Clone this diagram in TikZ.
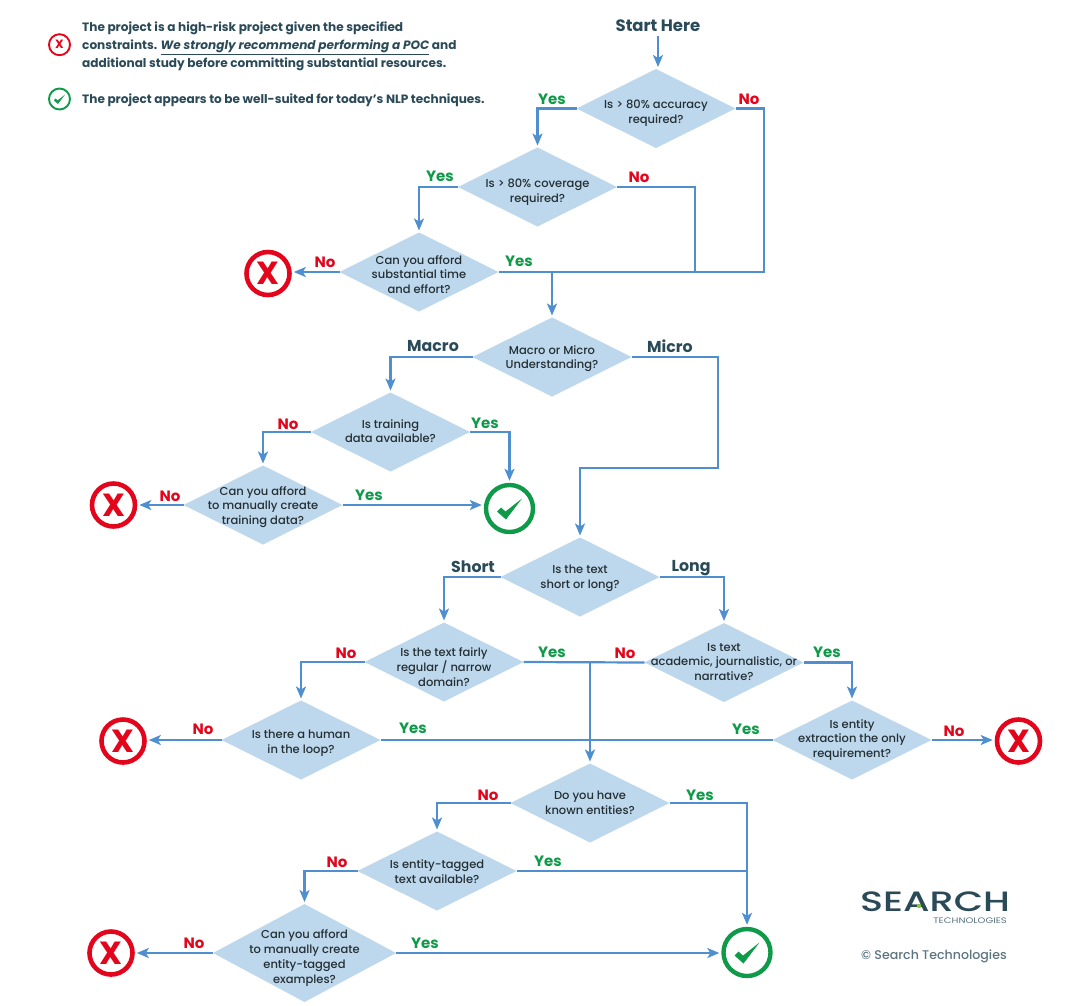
\documentclass[tikz,border=0pt]{standalone}
\usepackage{fontspec}
\setmainfont{Poppins}
\newfontfamily\medfont{Poppins Medium}
\usetikzlibrary{shapes.geometric,arrows.meta,calc}
\definecolor{dblue}{HTML}{BDD7EC}
\definecolor{lineb}{HTML}{4F8FD0}
\definecolor{ink}{HTML}{2B4A58}
\definecolor{txtc}{HTML}{232F33}
\definecolor{yesg}{HTML}{0E9A48}
\definecolor{nor}{HTML}{E3051B}
\definecolor{grayt}{HTML}{5B7480}
\definecolor{dotg}{HTML}{8CC63F}
\tikzset{
 dia/.style={diamond,fill=dblue,draw=none,inner sep=0pt,outer sep=0pt,minimum width=159pt,minimum height=79pt},
 qtext/.style={align=center,text=txtc,font=\medfont\fontsize{11.5}{14.7}\selectfont,inner sep=0pt},
 conn/.style={draw=lineb,line width=2.2pt},
 arr/.style={conn,-{Stealth[length=12pt,width=10pt,inset=3pt]},shorten >=2pt},
 yeslab/.style={text=yesg,font=\fontsize{15}{16}\selectfont\bfseries,inner sep=0pt},
 nolab/.style={text=nor,font=\fontsize{15}{16}\selectfont\bfseries,inner sep=0pt},
 inklab/.style={text=ink,font=\fontsize{15.8}{18}\selectfont\bfseries,inner sep=0pt},
 xbig/.style={circle,draw=nor,line width=4.6pt,minimum size=43pt,inner sep=0pt,text=nor,font=\fontsize{32}{32}\selectfont\bfseries},
 xsmall/.style={circle,draw=nor,line width=1.9pt,minimum size=21pt,inner sep=0pt,text=nor,font=\fontsize{12}{12}\selectfont\bfseries},
 okbig/.style={circle,draw=yesg,line width=4.4pt,minimum size=47pt,inner sep=0pt},
 oksmall/.style={circle,draw=yesg,line width=1.9pt,minimum size=21pt,inner sep=0pt},
 legend/.style={anchor=west,align=left,text=ink,inner sep=0pt,font=\fontsize{12.1}{18}\selectfont\bfseries},
}
\newcommand{\tick}[2]{\fill[yesg,shift={(#1)},scale=#2]
  (-12.5,3) -- (-8.5,-1) -- (-4,3) -- (12.5,-10) -- (-3.5,11) -- cycle;}
\begin{document}
\begin{tikzpicture}[x=1pt,y=-1pt]
\useasboundingbox (0,0) rectangle (1081,1005);
% diamonds
\node[dia] (d1) at (656,108.5) {};
\node[dia] (d2) at (537.5,187) {};
\node[dia] (d3) at (419,272) {};
\node[dia] (d4) at (552,357) {};
\node[dia] (d5) at (390.5,432) {};
\node[dia] (d6) at (263,505) {};
\node[dia] (d7) at (580,577) {};
\node[dia] (d8) at (444,662) {};
\node[dia] (d9) at (724,662.5) {};
\node[dia] (d10) at (301,740) {};
\node[dia] (d11) at (852,740) {};
\node[dia] (d12) at (590,803) {};
\node[dia] (d13) at (437,871) {};
\node[dia,minimum width=183pt,minimum height=98pt] (d14) at (304.5,953) {};
% question text
\node[qtext,yshift=-4.5pt] (t1) at (d1) {Is > 80\% accuracy\\required?};
\node[qtext,yshift=-5pt] (t2) at (d2) {Is > 80\% coverage\\required?};
\node[qtext,yshift=-2.5pt] (t3) at (d3) {Can you afford\\substantial time\\and effort?};
\node[qtext,yshift=-1.5pt] (t4) at (d4) {Macro or Micro\\Understanding?};
\node[qtext,yshift=1pt] (t5) at (d5) {Is training\\data available?};
\node[qtext,yshift=-2pt] (t6) at (d6) {Can you afford\\to manually create\\training data?};
\node[qtext,yshift=-1pt] (t7) at (d7) {Is the text\\short or long?};
\node[qtext,yshift=-5pt] (t8) at (d8) {Is the text fairly\\regular / narrow\\domain?};
\node[qtext,yshift=0.5pt] (t9) at (d9) {Is text\\academic, journalistic, or\\narrative?};
\node[qtext,yshift=-3.5pt] (t10) at (d10) {Is there a human\\in the loop?};
\node[qtext] (t11) at (d11) {Is entity\\extraction the only\\requirement?};
\node[qtext] (t12) at (d12) {Do you have\\known entities?};
\node[qtext,yshift=-0.5pt] (t13) at (d13) {Is entity-tagged\\text available?};
\node[qtext,yshift=-5pt] (t14) at (d14) {Can you afford\\to manually create\\entity-tagged\\examples?};
% icons
\node[xbig] (x1) at (268,273.5) {X};
\node[xbig] (x2) at (113.5,505) {X};
\node[xbig] (x3) at (123,741) {X};
\node[xbig] (x4) at (1018.5,741) {X};
\node[xbig] (x5) at (111,953) {X};
\node[okbig] (c1) at (509.5,508.5) {};
\node[okbig] (c2) at (747,952.5) {};
\tick{c1}{1}
\tick{c2}{1}
\node[xsmall] (lx) at (59.5,44.7) {X};
\node[oksmall] (lc) at (59.5,99) {};
\tick{lc}{0.45}
% start
\node[inklab,font=\fontsize{16.5}{18}\selectfont\bfseries] (start) at (658,26) {Start Here};
% junctions
\coordinate (j1) at (764,272);
\coordinate (j2) at (695,272);
\coordinate (j3) at (552,272);
\coordinate (j4) at (718,468);
\coordinate (j6) at (590,662);
\coordinate (j8) at (747,871);
% connectors
\draw[arr] (start.south)+(0,4) -- (d1.north -| start.south);
\draw[arr] (d1.west) -| (d2.north);
\draw[conn] (d1.east) -| (j1) -- (d3.east);
\draw[arr] (d2.west) -| (d3.north);
\draw[conn] (d2.east) -| (j2);
\draw[arr] (d3.west) -- (d3.west -| x1.east);
\draw[arr] (j3) -- (d4.north);
\draw[arr] (d4.west) -| (d5.north);
\draw[arr] (d4.east) -| (j4) -| (d7.north);
\draw[arr] (d5.west) -| (d6.north);
\draw[arr] (d5.east) -| (c1.north);
\draw[arr] (d6.east) -- (d6.east -| c1.west);
\draw[arr] (d6.west) -- (d6.west -| x2.east);
\draw[arr] (d7.west) -| (d8.north);
\draw[arr] (d7.east) -| (d9.north);
\draw[arr] (d8.west) -| (d10.north);
\draw[conn] (d8.east) -- (d9.west);
\draw[arr] (d9.east) -| (d11.north);
\draw[arr] (j6) -- (d12.north);
\draw[arr] (d10.west) -- (d10.west -| x3.east);
\draw[conn] (d10.east) -- (d11.west);
\draw[arr] (d11.east) -- (d11.east -| x4.west);
\draw[arr] (d12.west) -| (d13.north);
\draw[arr] (d12.east) -| (c2.north);
\draw[arr] (d13.west) -| (d14.north);
\draw[conn] (d13.east) -- (j8);
\draw[arr] (d14.west) -- (d14.west -| x5.east);
\draw[arr] (d14.east) -- (d14.east -| c2.west);
% branch labels
\node[yeslab] at (552,99.5) {Yes};
\node[nolab] at (749,99.5) {No};
\node[yeslab] at (440,176.5) {Yes};
\node[nolab] at (639,177.5) {No};
\node[nolab] at (325,262.5) {No};
\node[yeslab] at (519,261.5) {Yes};
\node[inklab] at (433,346.5) {Macro};
\node[inklab] at (670,346.5) {Micro};
\node[nolab] at (288,424.5) {No};
\node[yeslab] at (485,423.5) {Yes};
\node[nolab] at (170,496.5) {No};
\node[yeslab] at (369,495.5) {Yes};
\node[inklab] at (473,566.5) {Short};
\node[inklab] at (691,568) {Long};
\node[nolab] at (346,653.5) {No};
\node[yeslab] at (552,652.5) {Yes};
\node[nolab] at (625,653.5) {No};
\node[yeslab] at (827,652.5) {Yes};
\node[nolab] at (203,729.5) {No};
\node[yeslab] at (413,728.5) {Yes};
\node[yeslab] at (746,729.5) {Yes};
\node[nolab] at (954,731.5) {No};
\node[nolab] at (488,795.5) {No};
\node[yeslab] at (700,795.5) {Yes};
\node[nolab] at (337,862.5) {No};
\node[yeslab] at (548,861.5) {Yes};
\node[nolab] at (194,943.5) {No};
\node[yeslab] at (425,943.5) {Yes};
% legend
\node[legend] (lt1) at (82,46.5) {The project is a high-risk project given the specified\\constraints. \underline{\textit{We strongly recommend performing a POC}} and\\additional study before committing substantial resources.};
\node[legend] (lt2) at (82,100.5) {The project appears to be well-suited for today's NLP techniques.};
% logo
\node[anchor=west,text=ink,inner sep=0pt,font=\medfont\fontsize{28}{28}\selectfont] (logo) at (860,902) {\scalebox{1.36}[1]{SEARCH}};
\fill[dotg] (919,906) circle (2.2pt);
\node[anchor=east,text=grayt,inner sep=0pt,font=\fontsize{8}{9}\selectfont] (logo2) at (1007,920.5) {\scalebox{1.25}[1]{TECHNOLOGIES}};
\node[anchor=east,text=grayt,inner sep=0pt,font=\medfont\fontsize{12.6}{14}\selectfont] (copy) at (1007,956) {© Search Technologies};
\end{tikzpicture}
\end{document}
